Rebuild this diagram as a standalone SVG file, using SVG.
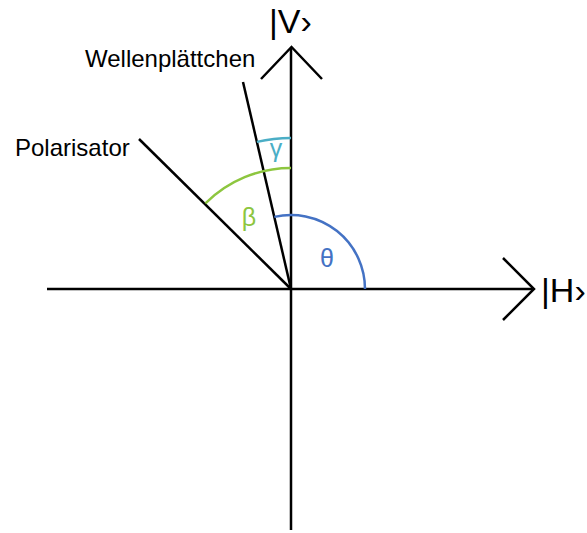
<svg xmlns="http://www.w3.org/2000/svg" width="587" height="533" viewBox="0 0 587 533">
<style>
.ax{stroke:#000;stroke-width:2.5;fill:none;stroke-linecap:butt}
.lbl{font-family:"Liberation Sans",Arial,sans-serif;font-size:24px;fill:#000}
.big{font-family:"Liberation Sans",Arial,sans-serif;font-size:34px;fill:#000}
.gk{font-family:"Liberation Sans",Arial,sans-serif;font-size:25px;text-anchor:middle}
.arc{fill:none;stroke-width:2.5}
</style>
<rect width="587" height="533" fill="#fff"/>
<g id="connectors">
<line class="ax" x1="47" y1="289" x2="534" y2="289"/>
<line class="ax" x1="291" y1="530" x2="291" y2="48"/>
<polyline class="ax" points="503,258 534,289 503,320"/>
<polyline class="ax" points="261,79 291.5,47 322,79"/>
<line class="ax" x1="139" y1="139" x2="291" y2="289"/>
<line class="ax" x1="243" y1="82" x2="291" y2="289"/>
<path class="arc" stroke="#4BAEC6" d="M291,138 A151,151 0 0 0 256.9,141.9"/>
<path class="arc" stroke="#8DC63F" d="M291,168 A121,121 0 0 0 205.4,203.4"/>
<path class="arc" stroke="#4472C4" d="M365,289 A74,74 0 0 0 274.3,216.9"/>
</g>
<g id="label-V"><text class="big" x="269" y="33">|V›</text></g>
<g id="label-H"><text class="big" x="541" y="302">|H›</text></g>
<g id="wellenplaettchen"><text class="lbl" x="85" y="67">Wellenplättchen</text></g>
<g id="polarisator"><text class="lbl" x="15" y="156">Polarisator</text></g>
<g id="gamma"><text class="gk" x="276" y="157" fill="#4BAEC6">γ</text></g>
<g id="beta"><text class="gk" x="249" y="226" fill="#8DC63F">β</text></g>
<g id="theta"><text class="gk" x="327" y="267" fill="#4472C4">θ</text></g>
</svg>
